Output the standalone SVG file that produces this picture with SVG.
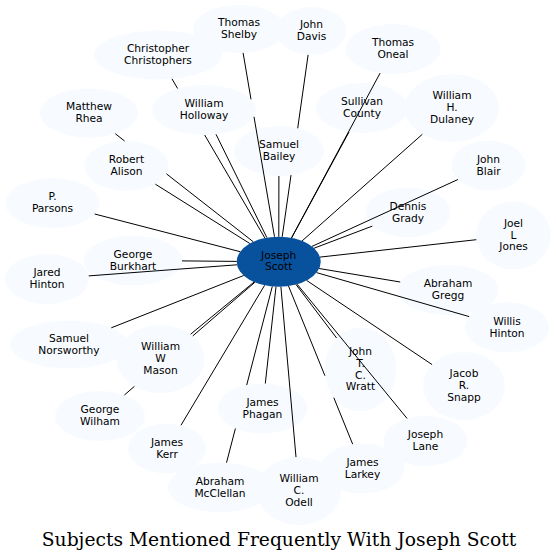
<svg xmlns="http://www.w3.org/2000/svg" width="556" height="560" viewBox="0 0 556 560">
<style>
.n ellipse{fill:#f7fbff;stroke:none}
.c ellipse{fill:#08519c;stroke:none}
text{font-family:"DejaVu Sans",sans-serif;font-size:10.67px;text-anchor:middle;fill:#000}
.title{font-family:"DejaVu Serif",serif;font-size:18.7px;fill:#000}
#edges path{fill:none;stroke:#000;stroke-width:1}
</style>
<rect width="556" height="560" fill="#fff"/>
<g id="nodes">
<g id="n-thomas-shelby" class="n"><ellipse cx="239" cy="29" rx="46" ry="24"/><text x="239" y="26.2">Thomas<tspan x="239" dy="11.8">Shelby</tspan></text></g>
<g id="n-john-davis" class="n"><ellipse cx="311.5" cy="31" rx="35" ry="24"/><text x="311.5" y="28.2">John<tspan x="311.5" dy="11.8">Davis</tspan></text></g>
<g id="n-christopher-christophers" class="n"><ellipse cx="158" cy="55" rx="64" ry="24.5"/><text x="158" y="52.2">Christopher<tspan x="158" dy="11.8">Christophers</tspan></text></g>
<g id="n-thomas-oneal" class="n"><ellipse cx="393" cy="49" rx="47.5" ry="25"/><text x="393" y="46.2">Thomas<tspan x="393" dy="11.8">Oneal</tspan></text></g>
<g id="n-william-holloway" class="n"><ellipse cx="204" cy="110" rx="52" ry="25"/><text x="204" y="107.2">William<tspan x="204" dy="11.8">Holloway</tspan></text></g>
<g id="n-matthew-rhea" class="n"><ellipse cx="89" cy="113" rx="49" ry="24.5"/><text x="89" y="110.2">Matthew<tspan x="89" dy="11.8">Rhea</tspan></text></g>
<g id="n-sullivan-county" class="n"><ellipse cx="362" cy="108" rx="46" ry="25"/><text x="362" y="105.2">Sullivan<tspan x="362" dy="11.8">County</tspan></text></g>
<g id="n-william-h-dulaney" class="n"><ellipse cx="452" cy="108" rx="47" ry="34"/><text x="452" y="99.3">William<tspan x="452" dy="11.8">H.</tspan><tspan x="452" dy="11.8">Dulaney</tspan></text></g>
<g id="n-samuel-bailey" class="n"><ellipse cx="279" cy="151" rx="45" ry="25"/><text x="279" y="148.2">Samuel<tspan x="279" dy="11.8">Bailey</tspan></text></g>
<g id="n-robert-alison" class="n"><ellipse cx="126.5" cy="166" rx="42" ry="25"/><text x="126.5" y="163.2">Robert<tspan x="126.5" dy="11.8">Alison</tspan></text></g>
<g id="n-john-blair" class="n"><ellipse cx="488.5" cy="165.5" rx="37" ry="25"/><text x="488.5" y="162.7">John<tspan x="488.5" dy="11.8">Blair</tspan></text></g>
<g id="n-p-parsons" class="n"><ellipse cx="52.5" cy="203" rx="47" ry="25"/><text x="52.5" y="200.2">P.<tspan x="52.5" dy="11.8">Parsons</tspan></text></g>
<g id="n-dennis-grady" class="n"><ellipse cx="408" cy="212.5" rx="42.5" ry="25"/><text x="408" y="209.7">Dennis<tspan x="408" dy="11.8">Grady</tspan></text></g>
<g id="n-joel-l-jones" class="n"><ellipse cx="513.5" cy="235.5" rx="37.5" ry="34"/><text x="513.5" y="226.8">Joel<tspan x="513.5" dy="11.8">L</tspan><tspan x="513.5" dy="11.8">Jones</tspan></text></g>
<g id="n-george-burkhart" class="n"><ellipse cx="133" cy="260.5" rx="49" ry="25"/><text x="133" y="257.7">George<tspan x="133" dy="11.8">Burkhart</tspan></text></g>
<g id="n-jared-hinton" class="n"><ellipse cx="47" cy="279" rx="42" ry="25"/><text x="47" y="276.2">Jared<tspan x="47" dy="11.8">Hinton</tspan></text></g>
<g id="n-abraham-gregg" class="n"><ellipse cx="448" cy="290" rx="50.5" ry="25"/><text x="448" y="287.2">Abraham<tspan x="448" dy="11.8">Gregg</tspan></text></g>
<g id="n-willis-hinton" class="n"><ellipse cx="507" cy="327.5" rx="42" ry="25"/><text x="507" y="324.7">Willis<tspan x="507" dy="11.8">Hinton</tspan></text></g>
<g id="n-samuel-norsworthy" class="n"><ellipse cx="69" cy="344.5" rx="59" ry="24"/><text x="69" y="341.7">Samuel<tspan x="69" dy="11.8">Norsworthy</tspan></text></g>
<g id="n-william-w-mason" class="n"><ellipse cx="160.5" cy="359" rx="44" ry="34"/><text x="160.5" y="350.3">William<tspan x="160.5" dy="11.8">W</tspan><tspan x="160.5" dy="11.8">Mason</tspan></text></g>
<g id="n-john-t-c-wratt" class="n"><ellipse cx="360.5" cy="369.5" rx="36" ry="42"/><text x="360.5" y="354.9">John<tspan x="360.5" dy="11.8">T.</tspan><tspan x="360.5" dy="11.8">C.</tspan><tspan x="360.5" dy="11.8">Wratt</tspan></text></g>
<g id="n-jacob-r-snapp" class="n"><ellipse cx="464" cy="386" rx="41" ry="34"/><text x="464" y="377.3">Jacob<tspan x="464" dy="11.8">R.</tspan><tspan x="464" dy="11.8">Snapp</tspan></text></g>
<g id="n-george-wilham" class="n"><ellipse cx="100" cy="416" rx="45" ry="25"/><text x="100" y="413.2">George<tspan x="100" dy="11.8">Wilham</tspan></text></g>
<g id="n-james-phagan" class="n"><ellipse cx="262.5" cy="408.5" rx="45" ry="25"/><text x="262.5" y="405.7">James<tspan x="262.5" dy="11.8">Phagan</tspan></text></g>
<g id="n-joseph-lane" class="n"><ellipse cx="425.5" cy="441" rx="42" ry="25"/><text x="425.5" y="438.2">Joseph<tspan x="425.5" dy="11.8">Lane</tspan></text></g>
<g id="n-james-kerr" class="n"><ellipse cx="167" cy="448.5" rx="39" ry="25"/><text x="167" y="445.7">James<tspan x="167" dy="11.8">Kerr</tspan></text></g>
<g id="n-james-larkey" class="n"><ellipse cx="362.5" cy="468.5" rx="42" ry="25"/><text x="362.5" y="465.7">James<tspan x="362.5" dy="11.8">Larkey</tspan></text></g>
<g id="n-abraham-mcclellan" class="n"><ellipse cx="220" cy="487.5" rx="52" ry="25"/><text x="220" y="484.7">Abraham<tspan x="220" dy="11.8">McClellan</tspan></text></g>
<g id="n-william-c-odell" class="n"><ellipse cx="299" cy="491" rx="42" ry="34"/><text x="299" y="482.3">William<tspan x="299" dy="11.8">C.</tspan><tspan x="299" dy="11.8">Odell</tspan></text></g>
<g id="n-joseph-scott" class="c"><ellipse cx="278.7" cy="261.7" rx="42" ry="25"/><text x="278.7" y="258.6">Joseph<tspan x="278.7" dy="11.8">Scott</tspan></text></g>
</g>
<g id="edges">
<path d="M274.5,236.8 L254.0,116.8 M251.0,99.3 L243.1,52.9"/>
<path d="M282.2,236.8 L291.0,175.1 M297.7,128.3 L308.1,54.9"/>
<path d="M264.9,238.1 L204.7,135.0 M177.6,88.5 L172.0,78.9"/>
<path d="M291.5,237.9 L380.1,73.1"/>
<path d="M266.9,237.7 L216.0,134.3"/>
<path d="M253.3,241.8 L166.4,173.8 M124.6,141.0 L115.3,133.7"/>
<path d="M291.6,237.9 L349.0,132.0"/>
<path d="M302.1,240.9 L422.3,134.3"/>
<path d="M278.8,236.7 L278.9,176.0"/>
<path d="M249.8,243.5 L155.4,184.2"/>
<path d="M312.0,246.4 L457.9,179.5"/>
<path d="M240.2,251.7 L94.7,214.0"/>
<path d="M314.1,248.2 L372.3,226.1"/>
<path d="M320.0,257.1 L476.3,239.7"/>
<path d="M236.7,261.4 L182.0,260.9"/>
<path d="M237.0,264.8 L88.7,275.9"/>
<path d="M319.1,268.5 L400.2,282.0"/>
<path d="M316.5,272.6 L469.2,316.6"/>
<path d="M243.7,275.5 L111.3,327.8"/>
<path d="M254.1,282.0 L190.6,334.2"/>
<path d="M296.0,284.5 L336.6,338.0"/>
<path d="M306.6,280.4 L432.1,364.6"/>
<path d="M254.9,282.3 L192.8,335.9 M134.4,386.4 L124.4,395.0"/>
<path d="M276.0,286.6 L265.3,383.5"/>
<path d="M297.1,284.2 L407.1,418.5"/>
<path d="M264.6,285.3 L181.0,425.2"/>
<path d="M288.5,286.0 L324.9,375.7 M333.8,397.7 L352.7,444.2"/>
<path d="M272.3,286.4 L246.7,385.1 M235.4,428.5 L226.5,462.7"/>
<path d="M280.9,286.7 L296.0,457.1"/>
</g>
<text class="title" x="279" y="546">Subjects Mentioned Frequently With Joseph Scott</text>
</svg>
